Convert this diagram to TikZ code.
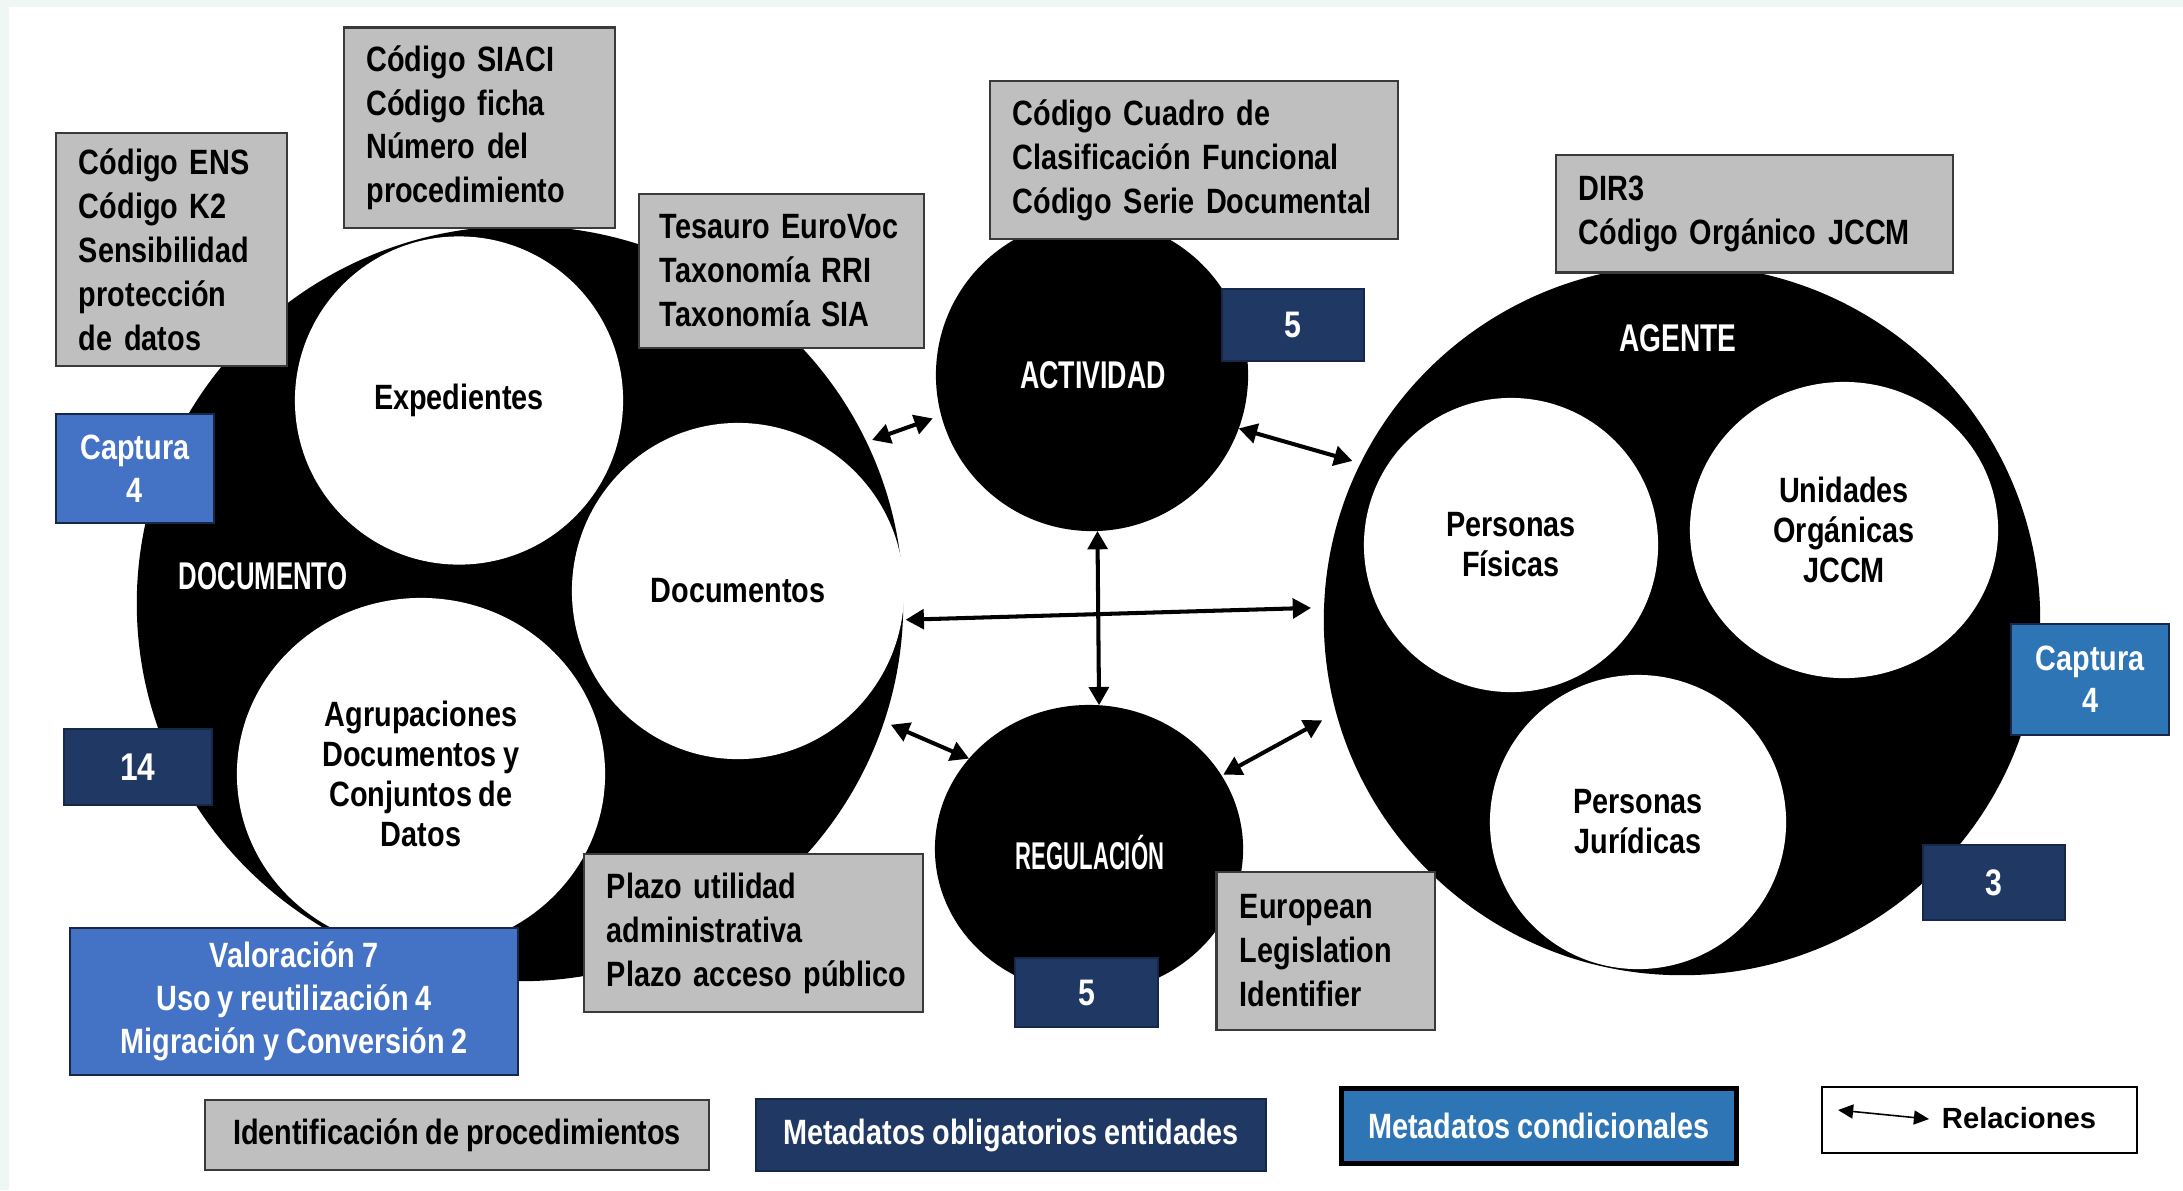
\documentclass[tikz,border=0pt]{standalone}
\usepackage{fontspec}
\usepackage{graphicx}
\setmainfont{Liberation Sans}[FakeStretch=0.82, WordSpace=0.85]
\newfontfamily\plainfont{Liberation Sans}
\usetikzlibrary{shapes.geometric,arrows.meta}
\definecolor{mint}{HTML}{EEF7F4}
\definecolor{boxgray}{HTML}{BFBFBF}
\definecolor{boxline}{HTML}{3A3A3A}
\definecolor{navy}{HTML}{203864}
\definecolor{navyline}{HTML}{16284A}
\definecolor{blueA}{HTML}{4472C4}
\definecolor{blueB}{HTML}{2E75B6}
\newcommand\gbxfont{\bfseries\fontsize{10}{12.5}\selectfont}
\newcommand\circfnt{\bfseries\fontsize{10}{11.4}\selectfont}
\newcommand\ttlfnt{\plainfont\bfseries\fontsize{11}{13}\selectfont}
\newcommand\numfnt{\bfseries\fontsize{10.5}{12}\selectfont}
\begin{document}
\begin{tikzpicture}[x=0.01cm,y=-0.01cm,
  blackc/.style={ellipse, fill=black, inner sep=0pt, outer sep=0pt},
  whitec/.style={ellipse, fill=white, inner sep=0pt, outer sep=0pt, align=center, font=\circfnt},
  gbox/.style={rectangle, draw=boxline, line width=0.6pt, fill=boxgray, align=left, font=\gbxfont, inner ysep=0pt},
  nbox/.style={rectangle, draw=navyline, line width=0.5pt, fill=navy, text=white, align=center, font=\numfnt, inner sep=0pt},
  bbox/.style={rectangle, draw=navyline, line width=0.5pt, fill=blueA, text=white, align=center, font=\bfseries\fontsize{10}{12.2}\selectfont, inner sep=0pt},
  cbox/.style={rectangle, draw=navyline, line width=0.5pt, fill=blueB, text=white, align=center, font=\bfseries\fontsize{10}{12}\selectfont, inner sep=0pt},
  ttl/.style={text=white, font=\ttlfnt, inner sep=0pt},
  rel/.style={line width=1.15pt, {Triangle[length=5.2pt,width=5.6pt]}-{Triangle[length=5.2pt,width=5.6pt]}},
  relsmall/.style={line width=0.45pt, {Triangle[length=4.3pt,width=4pt]}-{Triangle[length=4.3pt,width=4pt]}}
]
% background
\fill[white] (0,0) rectangle (2183,1190);
\useasboundingbox (0,0) rectangle (2183,1190);
\fill[mint] (0,0) rectangle (2183,7);
\fill[mint] (0,0) rectangle (9,1190);

% big black circles
\node[blackc, minimum width=7.66cm, minimum height=7.55cm] (doc) at (520,603.5) {};
\node[blackc, minimum width=3.12cm, minimum height=3.12cm] (act) at (1092,375) {};
\node[blackc, minimum width=3.08cm, minimum height=2.88cm] (reg) at (1089,849) {};
\node[blackc, minimum width=7.16cm, minimum height=7.10cm] (agt) at (1682,620) {};

% white circles
\node[whitec, minimum width=3.28cm, minimum height=3.28cm] (exp) at (459,400.5) {Expedientes};
\node[whitec, minimum width=3.32cm, minimum height=3.36cm] (docs) at (738,591) {Documentos};
\node[whitec, minimum width=3.68cm, minimum height=3.52cm] (agr) at (421,774) {Agrupaciones\\Documentos y\\Conjuntos de\\Datos};
\node[whitec, minimum width=2.94cm, minimum height=2.94cm] (pf) at (1511,545) {Personas\\Físicas};
\node[whitec, minimum width=3.08cm, minimum height=2.96cm] (uo) at (1844,530) {Unidades\\Orgánicas\\JCCM};
\node[whitec, minimum width=2.96cm, minimum height=2.94cm] (pj) at (1638,822) {Personas\\Jurídicas};

% titles
\node[ttl] (tdoc) at (263,576) {\scalebox{0.666}[1]{DOCUMENTO}};
\node[ttl] (tact) at (1093,375) {\scalebox{0.693}[1]{ACTIVIDAD}};
\node[ttl] (tagt) at (1678,338) {\scalebox{0.727}[1]{AGENTE}};
\node[ttl] (treg) at (1090,853) {\scalebox{0.571}[1]{REGULACIÓN}};

% relations
\draw[rel, shorten <=0.06cm, shorten >=0.09cm] (doc.25.5) -- (act.195.8);
\draw[rel, shorten >=0.085cm] (act.-20.1) -- (agt.154.9);
\draw[rel] (act.-88.2) -- (reg.86.4);
\draw[rel, shorten <=0.04cm, shorten >=0.13cm] (docs.-10.8) -- (agt.178.8);
\draw[rel, shorten <=0.075cm] (doc.-18) -- (reg.143);
\draw[rel, shorten <=0.02cm, shorten >=0.16cm] (reg.29.1) -- (agt.195.7);

% gray boxes
\node[gbox, minimum width=2.31cm, minimum height=2.33cm, inner xsep=0.23cm, text width=1.85cm] (ens) at (171.5,249.5)
  {Código ENS\\Código K2\\Sensibilidad\\protección\\de datos};
\node[gbox, minimum width=2.71cm, minimum height=2.005cm, inner xsep=0.225cm, text width=2.26cm] (siaci) at (479.5,127.75)
  {Código SIACI\\Código ficha\\Número del\\procedimiento};
\node[gbox, minimum width=2.85cm, minimum height=1.54cm, inner xsep=0.21cm, text width=2.43cm] (tes) at (781.5,271)
  {Tesauro EuroVoc\\Taxonomía RRI\\Taxonomía SIA};
\node[gbox, minimum width=4.08cm, minimum height=1.58cm, inner xsep=0.23cm, text width=3.62cm] (ccf) at (1194,160)
  {Código Cuadro de\\Clasificación Funcional\\Código Serie Documental};
\node[gbox, minimum width=3.97cm, minimum height=1.175cm, inner xsep=0.23cm, text width=3.51cm] (dir) at (1754.5,213.75)
  {DIR3\\Código Orgánico JCCM};
\node[gbox, minimum width=3.39cm, minimum height=1.58cm, inner xsep=0.23cm, text width=2.93cm] (plz) at (753.5,933)
  {Plazo utilidad\\administrativa\\\mbox{Plazo acceso público}};
\node[gbox, minimum width=2.18cm, minimum height=1.585cm, inner xsep=0.235cm, text width=1.71cm] (eli) at (1325.5,951)
  {European\\Legislation\\Identifier};

% blue and navy boxes
\node[bbox, minimum width=1.58cm, minimum height=1.09cm] (capl) at (135,468.5) {Captura\\4};
\node[cbox, minimum width=1.58cm, minimum height=1.11cm] (capr) at (2090,679.5) {Captura\\4};
\node[bbox, minimum width=4.48cm, minimum height=1.47cm] (val) at (294,1001.5)
  {Valoración 7\\Uso y reutilización 4\\Migración y Conversión 2};
\node[nbox, minimum width=1.42cm, minimum height=0.72cm] (nact) at (1293,325) {5};
\node[nbox, minimum width=1.43cm, minimum height=0.69cm] (nreg) at (1086.5,992.5) {5};
\node[nbox, minimum width=1.475cm, minimum height=0.76cm, font=\bfseries\fontsize{11}{13}\selectfont] (ndoc) at (138,767) {14};
\node[nbox, minimum width=1.42cm, minimum height=0.75cm] (nagt) at (1994,882.5) {3};

% legend
\node[gbox, align=center, inner sep=0pt, minimum width=5.03cm, minimum height=0.705cm] (lg1) at (457,1135) {Identificación de procedimientos};
\node[nbox, font=\gbxfont, minimum width=5.10cm, minimum height=0.725cm] (lg2) at (1011,1135) {Metadatos obligatorios entidades};
\node[cbox, draw=black, line width=1.4pt, font=\gbxfont, minimum width=3.94cm, minimum height=0.745cm] (lg3) at (1539,1126) {Metadatos condicionales};
\node[rectangle, draw=black, line width=0.6pt, fill=white, minimum width=3.15cm, minimum height=0.656cm] (lg4) at (1979.5,1120) {};
\coordinate (lgA) at (1838,1110);
\coordinate (lgB) at (1929,1119);
\draw[relsmall] (lgA) -- (lgB);
\node[font=\plainfont\bfseries\fontsize{8.3}{10}\selectfont, inner sep=0pt] (lgt) at (2019,1118) {Relaciones};
\end{tikzpicture}
\end{document}
